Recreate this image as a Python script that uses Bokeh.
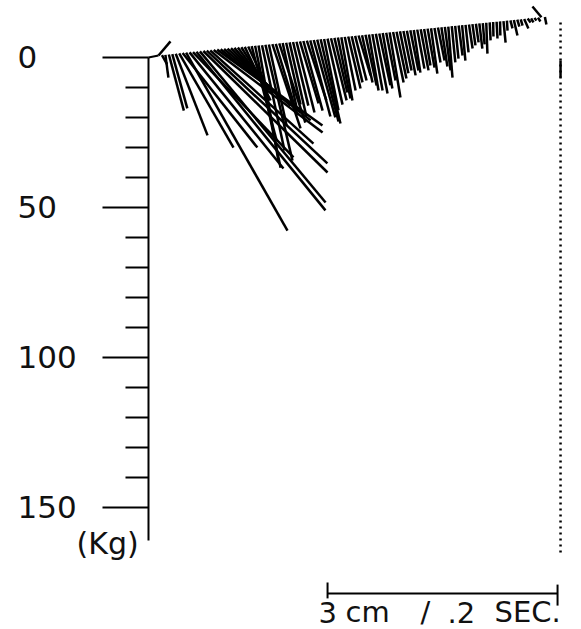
import numpy as np
from bokeh.plotting import figure
from bokeh.models import Range1d
from bokeh.core.properties import value
from bokeh.embed import file_html
from bokeh.resources import INLINE

# ---------------- data ----------------
# time of each force-vector origin (ms)
T_MS = [0, 3, 6, 9, 12, 15, 18, 21, 24, 27, 30, 33, 36, 39, 42, 45, 48, 51, 54, 57,
        60, 63, 66, 69, 72, 75, 78, 81, 84, 87, 90, 93, 96, 99, 102, 105, 108, 111, 114, 117,
        120, 123, 126, 129, 132, 135, 138, 141, 144, 147, 150, 153, 156, 159, 162, 165, 168, 171, 174, 177,
        180, 183, 186, 189, 192, 195, 198, 201, 204, 207, 210, 213, 216, 219, 222, 225, 228, 231, 234, 237,
        240, 243, 246, 249, 252, 255, 258, 261, 264, 267, 270, 273, 276, 279, 282, 285, 288, 291, 294, 297,
        300, 303, 306, 309, 312, 315, 318, 321, 324, 327, 330, 333, 336]
# horizontal force component (kg)
FH_KG = [4.0, 1.7, 1.0, 5.0, 5.0, 10.6, 18.1, 24.9, 33.8, 31.3,
         33.5, 43.0, 41.9, 41.4, 40.2, 34.4, 36.3, 35.1, 30.0, 25.5,
         21.0, 16.5, 12.7, 9.2, 7.0, 8.6, 6.8, 8.3, 8.5, 6.6,
         7.5, 9.0, 5.9, 9.4, 7.2, 8.7, 4.7, 4.8, 5.6, 5.1,
         6.0, 6.2, 6.4, 6.5, 6.7, 7.2, 7.1, 6.6, 4.8, 5.0,
         5.2, 4.3, 4.2, 3.7, 3.6, 4.1, 3.6, 3.8, 4.0, 3.5,
         3.7, 3.2, 3.4, 3.9, 3.7, 3.2, 3.1, 3.6, 3.5, 3.3,
         2.8, 2.7, 2.9, 2.7, 2.2, 2.4, 2.6, 2.1, 2.3, 2.1,
         2.0, 2.2, 2.0, 1.9, 1.4, 1.2, 1.1, 1.3, 1.1, 1.0,
         1.2, 1.0, 0.9, 1.0, 0.6, 0.4, 0.3, 0.1, 0.3, 0.1,
         0.7, 0.2, 0.7, 1.2, 0.7, 0.6, 1.4, 1.0, 0.8, 0.6,
         0.8, -3.0, 0.5]
# vertical force component (kg, downward positive)
FV_KG = [-4.7, 3.0, 7.6, 18.7, 18.1, 27.2, 31.4, 31.5, 59.3, 38.7,
         35.1, 52.9, 50.4, 40.5, 37.6, 31.1, 27.5, 25.3, 23.7, 21.2,
         19.0, 16.7, 14.9, 12.6, 11.1, 17.9, 14.7, 31.4, 40.6, 38.3,
         35.1, 38.6, 27.0, 28.1, 23.9, 26.4, 21.8, 20.6, 24.7, 21.2,
         23.6, 20.7, 23.2, 19.9, 25.4, 25.8, 27.3, 28.1, 23.8, 22.0,
         20.7, 18.2, 20.3, 21.1, 17.9, 17.3, 15.4, 14.9, 13.3, 15.8,
         16.9, 18.7, 18.8, 19.9, 17.3, 18.5, 15.9, 21.7, 16.8, 15.6,
         14.0, 13.2, 14.9, 13.4, 14.2, 13.0, 13.7, 12.2, 13.0, 15.1,
         11.5, 11.0, 13.1, 14.5, 17.0, 12.1, 10.9, 10.0, 11.8, 9.2,
         8.0, 7.1, 6.2, 8.4, 7.1, 10.3, 6.0, 4.8, 5.6, 4.7,
         7.2, 3.3, 2.7, 5.2, 2.3, 2.1, 3.2, 1.3, 1.4, 0.9,
         1.3, -3.6, 2.5]

Y_TICKS = [0, 50, 100, 150]
Y_TICK_LABELS = ["0", "50", "100", "150"]
Y_MINOR = [10, 20, 30, 40, 60, 70, 80, 90, 110, 120, 130, 140]
Y_AXIS_END = 161
Y_UNIT = "(Kg)"
SCALE_SEC = 0.2
SCALE_WORDS = ["3", "cm", "/", ".2", "SEC."]

# ---------------- geometry / style ----------------
S_PER_KG = 3.0 / 1150.0      # horizontal force drawn at the same size as vertical
BASE_KG = -0.67              # baseline offset
TILT_KG_PER_MS = -0.0383     # baseline tilt of the plotter trace
FONT = "DejaVu Sans"

t_ms = np.array(T_MS, dtype=float)
xs0 = t_ms / 1000.0
ys0 = BASE_KG + TILT_KG_PER_MS * t_ms
xs1 = xs0 + np.array(FH_KG) * S_PER_KG
ys1 = ys0 + np.array(FV_KG)

p = figure(width=581, height=629,
           x_range=Range1d(-0.13739, 0.36783), y_range=Range1d(190.67, -19.0),
           toolbar_location=None, output_backend="svg",
           min_border=0,
           x_axis_location=None, y_axis_location=None,
           background_fill_color="white", border_fill_color="white")
p.outline_line_color = None
p.grid.visible = False

# ---- vertical force axis (plotter style) ----
ax_x = -0.0087
maj_x = -0.0487
min_x = -0.0287
p.segment(x0=[ax_x], y0=[0], x1=[ax_x], y1=[Y_AXIS_END], line_color="black", line_width=2)
p.segment(x0=[maj_x] * len(Y_TICKS), y0=Y_TICKS, x1=[ax_x] * len(Y_TICKS), y1=Y_TICKS,
          line_color="black", line_width=2)
p.segment(x0=[min_x] * len(Y_MINOR), y0=Y_MINOR, x1=[ax_x] * len(Y_MINOR), y1=Y_MINOR,
          line_color="black", line_width=2)
# short join from the axis to the start of the vector baseline
p.segment(x0=[ax_x], y0=[0], x1=[xs0[0]], y1=[ys0[0]], line_color="black", line_width=2)
p.text(x=[-0.1226] * len(Y_TICKS), y=Y_TICKS, text=Y_TICK_LABELS,
       text_font=value(FONT), text_font_size=value("31px"), text_color="#111111",
       text_align="left", text_baseline="middle")
p.text(x=[-0.0713], y=[162], text=[Y_UNIT],
       text_font=value(FONT), text_font_size=value("30px"), text_color="#111111",
       text_align="left", text_baseline="middle")

# ---- force vectors ----
p.segment(x0=xs0, y0=ys0, x1=xs1, y1=ys1, line_color="black", line_width=2.5)

# ---- dotted end-of-contact line ----
dot_x = 0.3496
p.segment(x0=[dot_x], y0=[-11.7], x1=[dot_x], y1=[165], line_color="black",
          line_width=2.5, line_dash="2 4")
p.segment(x0=[dot_x], y0=[1.0], x1=[dot_x], y1=[6.7], line_color="black", line_width=2.5)

# ---- scale bar ----
sb0 = 0.147
sb1 = sb0 + SCALE_SEC
p.segment(x0=[sb0, sb0, sb1], y0=[178.7, 175.0, 175.7], x1=[sb1, sb0, sb1], y1=[178.7, 180.3, 182.7],
          line_color="black", line_width=2)
p.text(x=[0.1391, 0.1626, 0.2278, 0.2513, 0.2922], y=[185] * len(SCALE_WORDS), text=SCALE_WORDS,
       text_font=value(FONT), text_font_size=value("29px"), text_color="#111111",
       text_align="left", text_baseline="middle")

open("out.html", "w").write(file_html(p, INLINE))
